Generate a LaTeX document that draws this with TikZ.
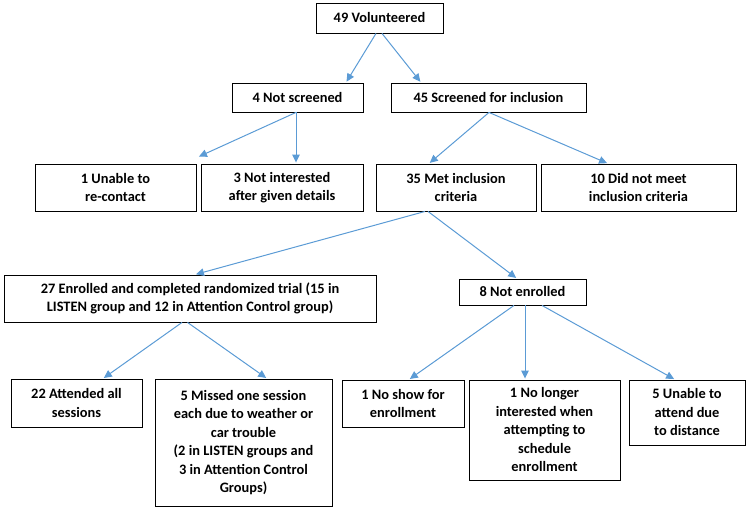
\documentclass[tikz,border=0pt]{standalone}
\usepackage{fontspec}
\setmainfont{Carlito}
\usetikzlibrary{arrows.meta}
\definecolor{arrowblue}{RGB}{91,155,213}
\tikzset{
  box/.style={draw=black, line width=0.9pt, inner sep=0pt, align=center,
    font=\fontsize{14.4pt}{18.5pt}\selectfont\bfseries},
  arr/.style={draw=arrowblue, line width=1pt, -{Triangle[length=8pt,width=7.5pt]}, shorten >=1pt}
}
\begin{document}
\begin{tikzpicture}[x=1pt,y=1pt]
\useasboundingbox (0,0) rectangle (750,-510);
\node[box, minimum width=127pt, minimum height=30pt] (v49) at (379.5,-18) {49 Volunteered};
\node[box, minimum width=131pt, minimum height=29pt] (ns4) at (297.5,-97.5) {4 Not screened};
\node[box, minimum width=195pt, minimum height=29pt] (s45) at (488.5,-97.5) {45 Screened for inclusion};
\node[box, minimum width=161pt, minimum height=47pt] (u1) at (115.5,-187.5) {1 Unable to\\re-contact};
\node[box, minimum width=162pt, minimum height=47pt] (ni3) at (282,-187.5) {3 Not interested\\after given details};
\node[box, minimum width=160pt, minimum height=47pt] (m35) at (456,-187.5) {35 Met inclusion\\criteria};
\node[box, minimum width=195pt, minimum height=47pt] (d10) at (638.5,-187.5) {10 Did not meet\\inclusion criteria};
\node[box, minimum width=372pt, minimum height=47pt] (e27) at (190,-298.5) {27 Enrolled and completed randomized trial (15 in\\LISTEN group and 12 in Attention Control group)};
\node[box, minimum width=127pt, minimum height=26pt] (ne8) at (522.5,-292) {8 Not enrolled};
\node[box, minimum width=131pt, minimum height=48pt] (a22) at (76.5,-403) {22 Attended all\\sessions};
\node[box, minimum width=177pt, minimum height=127pt] (m5) at (243.5,-442.5) {5 Missed one session\\each due to weather or\\car trouble\\(2 in LISTEN groups and\\3 in Attention Control\\Groups)};
\node[box, minimum width=122pt, minimum height=47pt] (nsh) at (403,-403.5) {1 No show for\\enrollment};
\node[box, minimum width=151pt, minimum height=100pt] (nl1) at (544.5,-430) {1 No longer\\interested when\\attempting to\\schedule\\enrollment};
\node[box, minimum width=116pt, minimum height=65pt] (ua5) at (687,-412.5) {5 Unable to\\attend due\\to distance};
\coordinate (gap) at (198,-157);

\draw[arr] ([xshift=-3.5pt]v49.south) -- ([xshift=48.5pt]ns4.north);
\draw[arr] ([xshift=2.5pt]v49.south) -- ([xshift=-67.5pt]s45.north);
\draw[arr] ([xshift=-1.5pt]ns4.south) -- (gap);
\draw[arr] ([xshift=-1.5pt]ns4.south) -- ([xshift=14pt]ni3.north);
\draw[arr] ([xshift=0.5pt]s45.south) -- ([xshift=-27pt]m35.north);
\draw[arr] ([xshift=0.5pt]s45.south) -- ([xshift=-30.5pt]d10.north);
\draw[arr] ([xshift=-31pt]m35.south) -- ([xshift=5pt]e27.north);
\draw[arr] ([xshift=-28pt]m35.south) -- ([xshift=-5.5pt]ne8.north);
\draw[arr] ([xshift=-8pt]e27.south) -- ([xshift=26.5pt]a22.north);
\draw[arr] ([xshift=-2.5pt]e27.south) -- ([xshift=23.5pt]m5.north);
\draw[arr] ([xshift=-8.5pt]ne8.south) -- ([xshift=6pt]nsh.north);
\draw[arr] ([xshift=2.5pt]ne8.south) -- ([xshift=-19.5pt]nl1.north);
\draw[arr] ([xshift=19.5pt]ne8.south) -- ([xshift=-12pt]ua5.north);
\end{tikzpicture}
\end{document}
